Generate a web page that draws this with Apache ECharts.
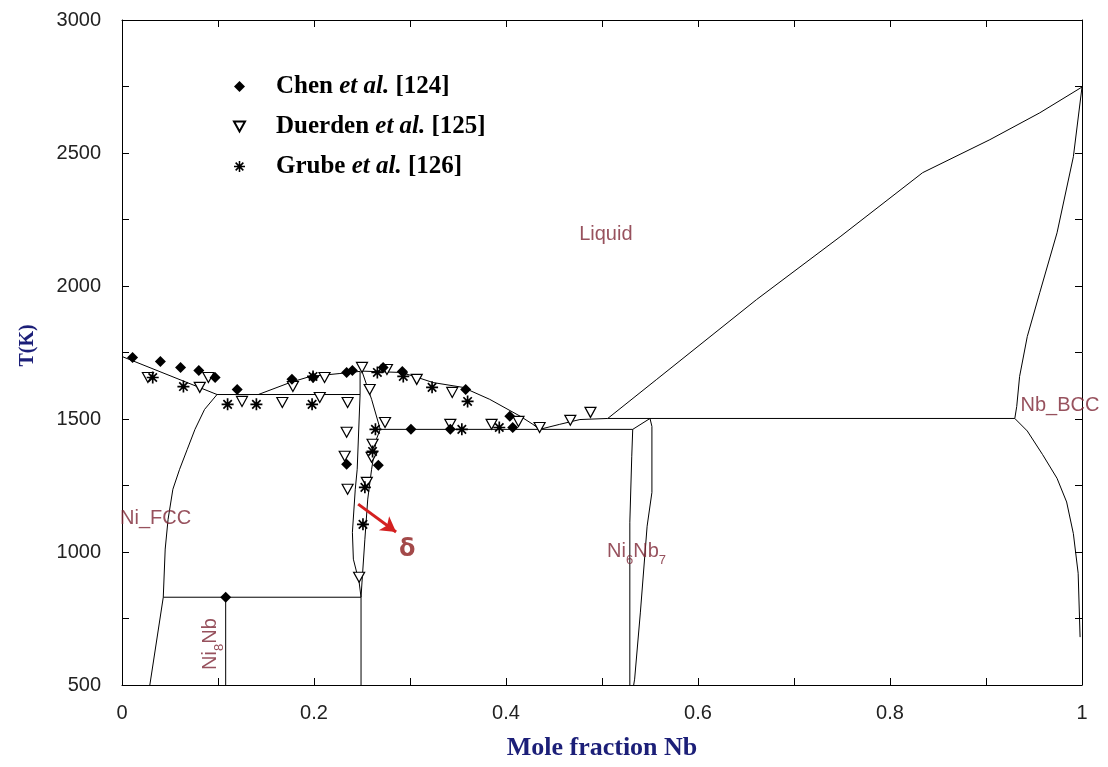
<!DOCTYPE html>
<html lang="en">
<head>
<meta charset="UTF-8">
<title>Ni-Nb phase diagram</title>
<style>
  * { margin: 0; padding: 0; box-sizing: border-box; }
  body { background: #fff; }
  #chart { width: 1108px; height: 767px; }
</style>
</head>
<body>
<div id="chart"></div>
<script src="https://cdn.jsdelivr.net/npm/echarts/dist/echarts.min.js"></script>
<script>
  // axes
  const xTicks = [0, 0.2, 0.4, 0.6, 0.8, 1]
  const yTicks = [500, 1000, 1500, 2000, 2500, 3000]

  // phase boundaries, [mole fraction Nb, T(K)]
  const niLiquidus = [[0, 1735], [0.099, 1592]]
  const fccSolvus = [[0.099, 1592], [0.086, 1536], [0.076, 1461], [0.068, 1386], [0.060, 1311], [0.053, 1236], [0.048, 1123], [0.045, 1011], [0.043, 830], [0.029, 500]]
  const eutecticFcc = [[0.099, 1592], [0.248, 1592]]
  const liqLeftDelta = [[0.142, 1592], [0.175, 1637], [0.196, 1660], [0.227, 1671], [0.248, 1679]]
  const deltaLeft = [[0.248, 1679], [0.248, 1592], [0.245, 1311], [0.243, 1236], [0.240, 1074], [0.241, 973], [0.247, 887], [0.249, 830], [0.249, 500]]
  const deltaRight = [[0.250, 1679], [0.260, 1574], [0.269, 1461], [0.265, 1424], [0.260, 1311], [0.256, 1199], [0.253, 1048], [0.250, 887], [0.249, 830]]
  const liqRightDelta = [[0.250, 1680], [0.290, 1675], [0.303, 1662], [0.324, 1637], [0.355, 1619], [0.383, 1574], [0.415, 1510], [0.428, 1480], [0.435, 1461]]
  const eutecticDelta = [[0.269, 1461], [0.532, 1461]]
  const liqMid = [[0.435, 1461], [0.456, 1480], [0.477, 1498], [0.506, 1502]]
  const liqNb = [[0.506, 1502], [0.557, 1649], [0.661, 1949], [0.748, 2185], [0.834, 2426], [0.904, 2550], [0.956, 2651], [1.0, 2748]]
  const peritectic = [[0.506, 1502], [0.930, 1502]]
  const ni6nb7Left = [[0.532, 1461], [0.531, 1360], [0.529, 1112], [0.529, 500]]
  const ni6nb7Top = [[0.532, 1461], [0.550, 1502]]
  const ni6nb7Right = [[0.550, 1502], [0.552, 1472], [0.552, 1224], [0.547, 1097], [0.540, 774], [0.534, 522], [0.533, 500]]
  const bccSolidus = [[0.930, 1502], [0.932, 1547], [0.935, 1660], [0.943, 1810], [0.956, 1975], [0.974, 2200], [0.991, 2486], [1.0, 2748]]
  const bccSolvus = [[0.930, 1502], [0.943, 1455], [0.959, 1366], [0.974, 1277], [0.984, 1188], [0.991, 1069], [0.996, 920], [0.998, 680]]
  const ni8nbTie = [[0.043, 830], [0.249, 830]]
  const ni8nbLine = [[0.108, 830], [0.108, 500]]

  // experimental points
  const chen = [[0.011, 1731], [0.040, 1716], [0.061, 1694], [0.080, 1682], [0.097, 1656], [0.120, 1611], [0.177, 1649], [0.199, 1656], [0.234, 1675], [0.240, 1682], [0.272, 1694], [0.292, 1679], [0.358, 1611], [0.404, 1510], [0.407, 1468], [0.301, 1461], [0.342, 1461], [0.234, 1330], [0.267, 1326], [0.108, 830]]
  const duerden = [[0.027, 1656], [0.081, 1619], [0.090, 1656], [0.125, 1566], [0.167, 1562], [0.178, 1622], [0.206, 1581], [0.211, 1656], [0.235, 1562], [0.250, 1694], [0.258, 1611], [0.234, 1450], [0.232, 1360], [0.235, 1236], [0.247, 905], [0.261, 1405], [0.260, 1356], [0.255, 1262], [0.274, 1487], [0.276, 1686], [0.307, 1649], [0.344, 1600], [0.342, 1480], [0.385, 1480], [0.413, 1491], [0.435, 1468], [0.467, 1495], [0.488, 1525]]
  const grube = [[0.032, 1656], [0.064, 1622], [0.110, 1555], [0.140, 1555], [0.198, 1555], [0.199, 1660], [0.266, 1675], [0.293, 1660], [0.323, 1619], [0.360, 1566], [0.264, 1461], [0.261, 1378], [0.253, 1243], [0.251, 1104], [0.354, 1461], [0.393, 1468]]

  const seriesNames = ['Chen et al. [124]', 'Duerden et al. [125]', 'Grube et al. [126]']

  // phase region labels: [x, T, text]
  const phaseLabels = [
    [0.504, 2193, 'Liquid'],
    [0.035, 1127, 'Ni_FCC'],
    [0.977, 1551, 'Nb_BCC'],
    [0.536, 992, '{a|Ni}{s|6}{a|Nb}{s|7}'],
    [0.095, 654, '{a|Ni}{s|8}{a|Nb}'],
  ]
  const deltaLabel = [0.297, 1008]
  const arrowFrom = [0.246, 1180]
  const arrowTo = [0.2855, 1075]

  const asterisk = 'path://M0,4.3L10,4.3L10,5.7L0,5.7ZM4.3,0L5.7,0L5.7,10L4.3,10ZM2,1L9,8L8,9L1,2ZM8,1L9,2L2,9L1,8Z'
  const downTriangle = 'path://M0,0L10,0L5,9Z'

  const boundaries = [niLiquidus, fccSolvus, eutecticFcc, liqLeftDelta, deltaLeft, deltaRight, liqRightDelta,
    eutecticDelta, liqMid, liqNb, peritectic, ni6nb7Left, ni6nb7Top, ni6nb7Right, bccSolidus, bccSolvus, ni8nbTie, ni8nbLine]

  const labelColor = '#7d2634'
  const navy = '#1c1f78'
  const tickFont = { fontFamily: 'Liberation Sans', fontSize: 20, color: '#222', formatter: v => String(v) }

  const chart = echarts.init(document.getElementById('chart'))

  const lineSeries = boundaries.map(d => ({
    type: 'line',
    data: d,
    symbol: 'none',
    silent: true,
    z: 2,
    lineStyle: { color: '#000', width: 1 }
  }))

  const sub = {
    a: { fontFamily: 'Liberation Sans', fontSize: 20, color: labelColor, lineHeight: 25, verticalAlign: 'top' },
    s: { fontFamily: 'Liberation Sans', fontSize: 13, color: labelColor, lineHeight: 13, verticalAlign: 'bottom' }
  }

  chart.setOption({
    animation: false,
    backgroundColor: '#fff',
    grid: { left: 122, right: 26, top: 20, bottom: 82 },
    legend: {
      orient: 'vertical',
      left: 228,
      top: 69,
      itemWidth: 11,
      itemHeight: 11,
      itemGap: 15,
      data: [
        { name: seriesNames[0] },
        { name: seriesNames[1], icon: downTriangle },
        { name: seriesNames[2] }
      ],
      selectedMode: false,
      formatter: function (name) {
        const parts = name.split(' et al. ')
        return '{sp| }{b|' + parts[0] + ' }{i|et al.}{b| ' + parts[1] + '}'
      },
      textStyle: {
        rich: {
          sp: { width: 26 },
          b: { fontFamily: 'Liberation Serif', fontSize: 25, fontWeight: 'bold', color: '#000', lineHeight: 28 },
          i: { fontFamily: 'Liberation Serif', fontSize: 25, fontWeight: 'bold', fontStyle: 'italic', color: '#000', lineHeight: 28 }
        }
      }
    },
    xAxis: [{
      type: 'value', min: xTicks[0], max: xTicks[xTicks.length - 1], interval: 0.2,
      position: 'bottom',
      axisLine: { onZero: false, lineStyle: { color: '#000', width: 1 } },
      axisTick: { inside: true, length: 7, lineStyle: { color: '#000' } },
      minorTick: { show: true, splitNumber: 2, length: 7, lineStyle: { color: '#000' } },
      splitLine: { show: false },
      axisLabel: Object.assign({ margin: 18 }, tickFont),
      name: 'Mole fraction Nb',
      nameLocation: 'middle',
      nameGap: 50,
      nameTextStyle: { fontFamily: 'Liberation Serif', fontSize: 26, fontWeight: 'bold', color: navy }
    }, {
      type: 'value', min: 0, max: 1, interval: 0.2,
      position: 'top',
      axisLine: { onZero: false, lineStyle: { color: '#000', width: 1 } },
      axisTick: { inside: true, length: 7, lineStyle: { color: '#000' } },
      minorTick: { show: true, splitNumber: 2, length: 7, lineStyle: { color: '#000' } },
      splitLine: { show: false },
      axisLabel: { show: false }
    }],
    yAxis: [{
      type: 'value', min: yTicks[0], max: yTicks[yTicks.length - 1], interval: 500,
      position: 'left',
      axisLine: { show: true, onZero: false, lineStyle: { color: '#000', width: 1 } },
      axisTick: { show: true, inside: true, length: 7, lineStyle: { color: '#000' } },
      minorTick: { show: true, splitNumber: 2, length: 7, lineStyle: { color: '#000' } },
      splitLine: { show: false },
      axisLabel: Object.assign({ margin: 21 }, tickFont),
      name: 'T(K)',
      nameLocation: 'middle',
      nameGap: 84,
      nameTextStyle: { fontFamily: 'Liberation Serif', fontSize: 20, fontWeight: 'bold', color: navy, padding: [0, 0, 0, 14] }
    }, {
      type: 'value', min: 500, max: 3000, interval: 500,
      position: 'right',
      axisLine: { show: true, onZero: false, lineStyle: { color: '#000', width: 1 } },
      axisTick: { show: true, inside: true, length: 7, lineStyle: { color: '#000' } },
      minorTick: { show: true, splitNumber: 2, length: 7, lineStyle: { color: '#000' } },
      splitLine: { show: false },
      axisLabel: { show: false }
    }],
    series: lineSeries.concat([
      {
        name: seriesNames[0], type: 'scatter', data: chen, z: 5,
        symbol: 'diamond', symbolSize: 11,
        itemStyle: { color: '#000', opacity: 1 }
      },
      {
        name: seriesNames[1], type: 'scatter', data: duerden, z: 4,
        symbol: downTriangle, symbolSize: [11, 10],
        itemStyle: { color: '#fff', borderColor: '#000', borderWidth: 1.2, opacity: 1 }
      },
      {
        name: seriesNames[2], type: 'scatter', data: grube, z: 4,
        symbol: asterisk, symbolSize: 12, symbolKeepAspect: true,
        itemStyle: { color: '#000', opacity: 1 }
      },
      {
        type: 'scatter', silent: true, z: 6,
        symbolSize: 0,
        data: phaseLabels.map(p => ({
          value: [p[0], p[1]],
          label: {
            show: true, position: 'inside',
            rotate: p[2].indexOf('|8}') > 0 ? 90 : 0,
            formatter: p[2],
            fontFamily: 'Liberation Sans', fontSize: 20, color: labelColor,
            rich: sub
          }
        })).concat([{
          value: deltaLabel,
          label: {
            show: true, position: 'inside', formatter: 'δ',
            fontFamily: 'DejaVu Sans', fontSize: 24, fontWeight: 'bold', color: '#8c1c1c'
          }
        }]),
        markLine: {
          silent: true,
          symbol: ['none', 'arrow'],
          symbolSize: [13, 15],
          label: { show: false },
          lineStyle: { color: '#d42020', width: 3, type: 'solid' },
          data: [[{ coord: arrowFrom }, { coord: arrowTo }]]
        }
      }
    ])
  })
</script>
</body>
</html>
